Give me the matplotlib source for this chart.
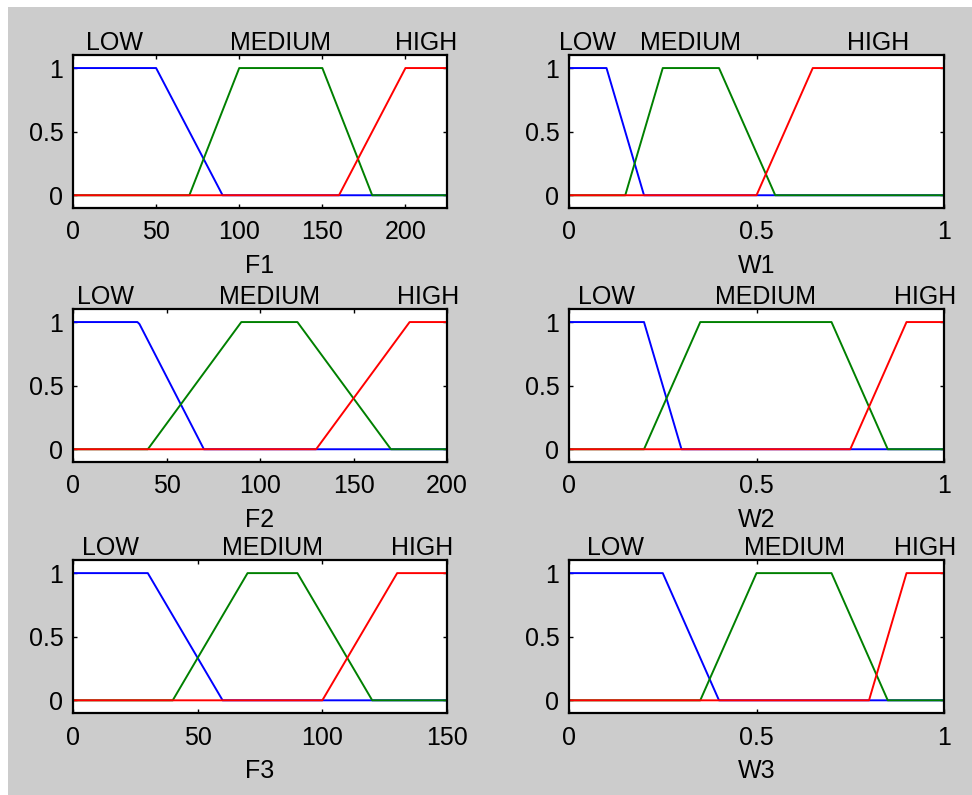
import numpy as np
import matplotlib.pyplot as plt
from matplotlib.patches import Rectangle

plt.rcParams['font.family'] = ['Liberation Sans', 'DejaVu Sans']

# Membership function names and colours (same for every variable)
mf_names = ["LOW", "MEDIUM", "HIGH"]
mf_colors = ["#0000ff", "#008000", "#ff0000"]

# Variables: name, range, trapezoid params [a, b, c, d] for LOW / MEDIUM / HIGH
var_names = ["F1", "W1", "F2", "W2", "F3", "W3"]
var_ranges = [[0, 225], [0, 1], [0, 200], [0, 1], [0, 150], [0, 1]]

f1_mfs = [[0, 0, 50, 90], [70, 100, 150, 180], [160, 200, 225, 225]]
w1_mfs = [[0, 0, 0.1, 0.2], [0.15, 0.25, 0.4, 0.55], [0.5, 0.65, 1, 1]]
f2_mfs = [[0, 0, 35, 70], [40, 90, 120, 170], [130, 180, 200, 200]]
w2_mfs = [[0, 0, 0.2, 0.3], [0.2, 0.35, 0.7, 0.85], [0.75, 0.9, 1, 1]]
f3_mfs = [[0, 0, 30, 60], [40, 70, 90, 120], [100, 130, 150, 150]]
w3_mfs = [[0, 0, 0.25, 0.4], [0.35, 0.5, 0.7, 0.85], [0.8, 0.9, 1, 1]]
all_mfs = [f1_mfs, w1_mfs, f2_mfs, w2_mfs, f3_mfs, w3_mfs]

# Tick values
f1_ticks = [0, 50, 100, 150, 200]
f2_ticks = [0, 50, 100, 150, 200]
f3_ticks = [0, 50, 100, 150]
w_ticks = [0, 0.5, 1]
all_xticks = [f1_ticks, w_ticks, f2_ticks, w_ticks, f3_ticks, w_ticks]
y_ticks = [0, 0.5, 1]


def trapmf(x, a, b, c, d):
    left = np.ones_like(x) if b == a else (x - a) / (b - a)
    right = np.ones_like(x) if d == c else (d - x) / (d - c)
    return np.clip(np.minimum(left, right), 0, 1)


def fmt(v):
    return "%g" % v


fs = 18

fig = plt.figure(figsize=(9.72, 7.95), dpi=100)
fig.patch.set_facecolor("white")
# grey window background
fig.patches.append(Rectangle((8 / 972, 0), 1, 1 - 7 / 795, transform=fig.transFigure,
                             facecolor="#cccccc", edgecolor="none", zorder=-10))

col_left = [0.0751, 0.5854]
col_width = [0.3848, 0.3858]
row_bottom = [0.7384, 0.4189, 0.1031]
row_height = 0.192

for i, name in enumerate(var_names):
    r, c = i // 2, i % 2
    ax = fig.add_axes([col_left[c], row_bottom[r], col_width[c], row_height])
    lo, hi = var_ranges[i]
    x = np.linspace(lo, hi, 181)
    for (a, b, cc, d), mf, col in zip(all_mfs[i], mf_names, mf_colors):
        ax.plot(x, trapmf(x, a, b, cc, d), color=col, lw=1.4)
        # MATLAB plotmf style label: centre of the plateau, above the axes
        ax.text((b + cc) / 2, 1.2, mf, ha='center', va='center', fontsize=fs, clip_on=False)

    ax.set_xlim(lo, hi)
    ax.set_ylim(-0.1, 1.1)
    ax.set_xticks(all_xticks[i])
    ax.set_xticklabels([fmt(v) for v in all_xticks[i]])
    ax.set_yticks(y_ticks)
    ax.set_yticklabels([fmt(v) for v in y_ticks])
    ax.tick_params(direction='in', top=True, right=True, length=3, width=1,
                   labelsize=fs, pad=7)
    ax.tick_params(axis='x', pad=9)
    ax.set_xlabel(name, fontsize=fs, labelpad=7)
    for sp in ax.spines.values():
        sp.set_linewidth(1.6)

fig.savefig("out.png", dpi=100)
